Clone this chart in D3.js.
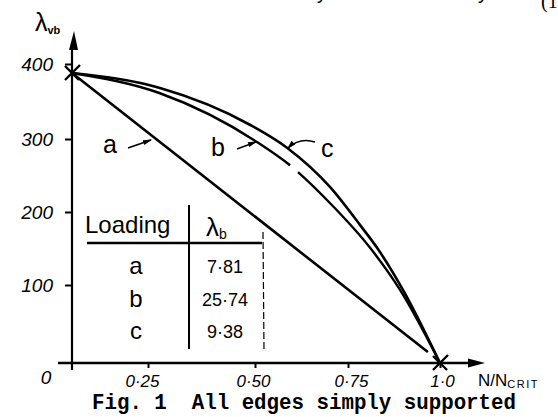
<!DOCTYPE html>
<html><head><meta charset="utf-8">
<script src="https://cdn.jsdelivr.net/npm/d3@7"></script>
<style>
html,body{margin:0;padding:0;background:#fff;}
svg{display:block;}
</style></head>
<body>
<svg id="chart" width="558" height="417"></svg>
<script>
// ---- data ----
const xTickValues = [0.25, 0.5, 0.75, 1.0];
const xTickLabels = ["0·25", "0·50", "0·75", "1·0"];
const yTickValues = [100, 200, 300, 400];
const yTickLabels = ["100", "200", "300", "400"];

const lineAX = [0, 0.967];
const lineAY = [388, 14];
const curveBX = [0, 0.278, 0.505, 0.594, 0.702, 0.810, 0.891, 1.0];
const curveBY = [388, 361, 296, 264, 212, 151, 94, 0];
const curveCX = [0, 0.278, 0.488, 0.586, 0.702, 0.783, 0.829, 0.899, 1.0];
const curveCY = [388, 368, 319, 288, 234, 182, 151, 94, 0];
const markerX = [0, 1.0];
const markerY = [388, 0];

const loadings = ["a", "b", "c"];
const lambdaB = ["7·81", "25·74", "9·38"];

// ---- drawing ----
const svg = d3.select("#chart");
const x = d3.scaleLinear().domain([0, 0.25, 0.5, 0.75, 1]).range([72, 148, 255, 348, 440]);
const y = d3.scaleLinear().domain([0, 100, 200, 300, 400]).range([363, 285, 212, 139, 64]);
const hand = "'Liberation Sans', Arial, sans-serif";

// axes lines with arrows
svg.append("line").attr("x1", x(0)).attr("x2", x(0)).attr("y1", y(0) + 7).attr("y2", 46)
  .attr("stroke", "#000").attr("stroke-width", 2.2);
svg.append("path").attr("d", `M${x(0)+2},31 L${x(0)-3},50 L${x(0)+6},50 Z`).attr("fill", "#000");
svg.append("line").attr("x1", 58).attr("x2", 472).attr("y1", y(0)).attr("y2", y(0))
  .attr("stroke", "#000").attr("stroke-width", 2.6);
svg.append("path").attr("d", `M485,${y(0)} L468,${y(0)-4.5} L468,${y(0)+4.5} Z`).attr("fill", "#000");

// y axis ticks
const gy = svg.append("g").attr("transform", `translate(${x(0)},0)`)
  .call(d3.axisLeft(y).tickValues(yTickValues).tickSize(7).tickPadding(12)
    .tickFormat((d, i) => yTickLabels[i]));
gy.select(".domain").remove();
gy.selectAll(".tick line").attr("stroke", "#000").attr("stroke-width", 2);
gy.selectAll(".tick text").attr("font-family", hand).attr("font-size", 19)
  .attr("font-style", "italic").attr("fill", "#000");

// x axis ticks
const gx = svg.append("g").attr("transform", `translate(0,${y(0)})`)
  .call(d3.axisBottom(x).tickValues(xTickValues).tickSize(5).tickPadding(0)
    .tickFormat((d, i) => xTickLabels[i]));
gx.select(".domain").remove();
gx.selectAll(".tick line").attr("stroke", "#000").attr("stroke-width", 2);
const xLabelShift = [-6, -2, 3, 2];
gx.selectAll(".tick text").attr("font-family", hand).attr("font-size", 17)
  .attr("font-style", "italic").attr("fill", "#000")
  .attr("y", 24).attr("dy", 0).attr("dx", (d, i) => xLabelShift[i]);

svg.append("text").attr("x", 46).attr("y", 384).attr("text-anchor", "middle")
  .attr("font-family", hand).attr("font-size", 19).attr("font-style", "italic").text("0");

// axis titles
const yt = svg.append("text").attr("x", 35).attr("y", 31).attr("font-family", hand).attr("font-size", 25);
yt.append("tspan").text("λ");
yt.append("tspan").attr("font-size", 11).attr("font-weight", "bold").attr("dy", 3).text("vb");

const xt = svg.append("text").attr("x", 478).attr("y", 386).attr("font-family", hand).attr("font-size", 17);
xt.append("tspan").text("N/N");
xt.append("tspan").attr("font-size", 11).attr("dy", 2).attr("letter-spacing", 1.5).text("CRIT");

// curves
const toPts = (xs, ys) => xs.map((v, i) => [x(v), y(ys[i])]);
const straight = d3.line();
const smooth = d3.line().curve(d3.curveMonotoneX);

svg.append("path").attr("d", straight(toPts(lineAX, lineAY)))
  .attr("fill", "none").attr("stroke", "#000").attr("stroke-width", 2.6);
svg.append("path").attr("d", smooth(toPts(curveCX, curveCY)))
  .attr("fill", "none").attr("stroke", "#000").attr("stroke-width", 2.6);
const bPath = svg.append("path").attr("d", smooth(toPts(curveBX, curveBY)))
  .attr("fill", "none").attr("stroke", "#000").attr("stroke-width", 2.4);
// small pen break in curve b
(function () {
  const node = bPath.node();
  const total = node.getTotalLength();
  const findLen = (px) => { let lo = 0, hi = total; for (let k = 0; k < 40; k++) { const m = (lo + hi) / 2; if (node.getPointAtLength(m).x < px) lo = m; else hi = m; } return lo; };
  const l1 = findLen(290), l2 = findLen(298);
  bPath.attr("stroke-dasharray", `${l1} ${l2 - l1} ${total}`);
})();

// cross markers
markerX.forEach((mx, i) => {
  const cx = x(mx), cy = y(markerY[i]);
  svg.append("path").attr("d", `M${cx-7},${cy-7}L${cx+7},${cy+7}M${cx-7},${cy+7}L${cx+8},${cy-8}`)
    .attr("stroke", "#000").attr("stroke-width", 2.4).attr("fill", "none");
});

// curve labels with pointers
function label(t, lx, ly) {
  svg.append("text").attr("x", lx).attr("y", ly).attr("font-family", hand).attr("font-size", 25).text(t);
}
function pointer(d, tx, ty, ang) {
  svg.append("path").attr("d", d).attr("fill", "none").attr("stroke", "#000").attr("stroke-width", 1.6);
  svg.append("path").attr("d", "M0,0 L-9,-2.5 L-9,2.5 Z").attr("fill", "#000")
    .attr("transform", `translate(${tx},${ty}) rotate(${ang})`);
}
label("a", 103, 153);
pointer("M128,148 L151,140", 152, 139.5, -20);
label("b", 211, 156);
pointer("M237,149 L256,142", 257, 141.5, -20);
label("c", 321, 157);
pointer("M315,142 Q300,137 288,148", 287, 149, 135);

// table
svg.append("line").attr("x1", 87).attr("x2", 262).attr("y1", 243).attr("y2", 243)
  .attr("stroke", "#000").attr("stroke-width", 2.4);
svg.append("line").attr("x1", 189).attr("x2", 189).attr("y1", 205).attr("y2", 349)
  .attr("stroke", "#000").attr("stroke-width", 2);
svg.append("line").attr("x1", 263).attr("x2", 264).attr("y1", 232).attr("y2", 351)
  .attr("stroke", "#000").attr("stroke-width", 1.2).attr("stroke-dasharray", "7,3");

svg.append("text").attr("x", 85).attr("y", 233).attr("font-family", hand).attr("font-size", 24).text("Loading");
const lh = svg.append("text").attr("x", 206).attr("y", 236).attr("font-family", hand).attr("font-size", 26);
lh.append("tspan").text("λ");
lh.append("tspan").attr("font-size", 14).attr("dy", 3).text("b");

const rowY = d3.scalePoint().domain(loadings).range([274, 339]);
loadings.forEach((L, i) => {
  svg.append("text").attr("x", 136).attr("y", rowY(L)).attr("text-anchor", "middle")
    .attr("font-family", hand).attr("font-size", 24).text(L);
  svg.append("text").attr("x", 225).attr("y", rowY(L) - 1).attr("text-anchor", "middle")
    .attr("font-family", hand).attr("font-size", 18).text(lambdaB[i]);
});

// caption
svg.append("text").attr("x", 92).attr("y", 409)
  .attr("font-family", "'Liberation Mono', 'Courier New', monospace").attr("font-size", 22)
  .attr("font-weight", "bold").attr("textLength", 424).attr("lengthAdjust", "spacingAndGlyphs")
  .attr("xml:space", "preserve").style("white-space", "pre")
  .text("Fig. 1  All edges simply supported");

// fragments of the preceding text line
svg.append("text").attr("x", 541).attr("y", 8).attr("font-family", "'Liberation Serif', serif")
  .attr("font-size", 20).text("(1");
svg.append("text").attr("x", 316).attr("y", -1).attr("font-family", "'Liberation Mono', monospace")
  .attr("font-size", 20).text("y");
svg.append("text").attr("x", 477).attr("y", -1).attr("font-family", "'Liberation Mono', monospace")
  .attr("font-size", 20).text("y");
</script>
</body></html>
